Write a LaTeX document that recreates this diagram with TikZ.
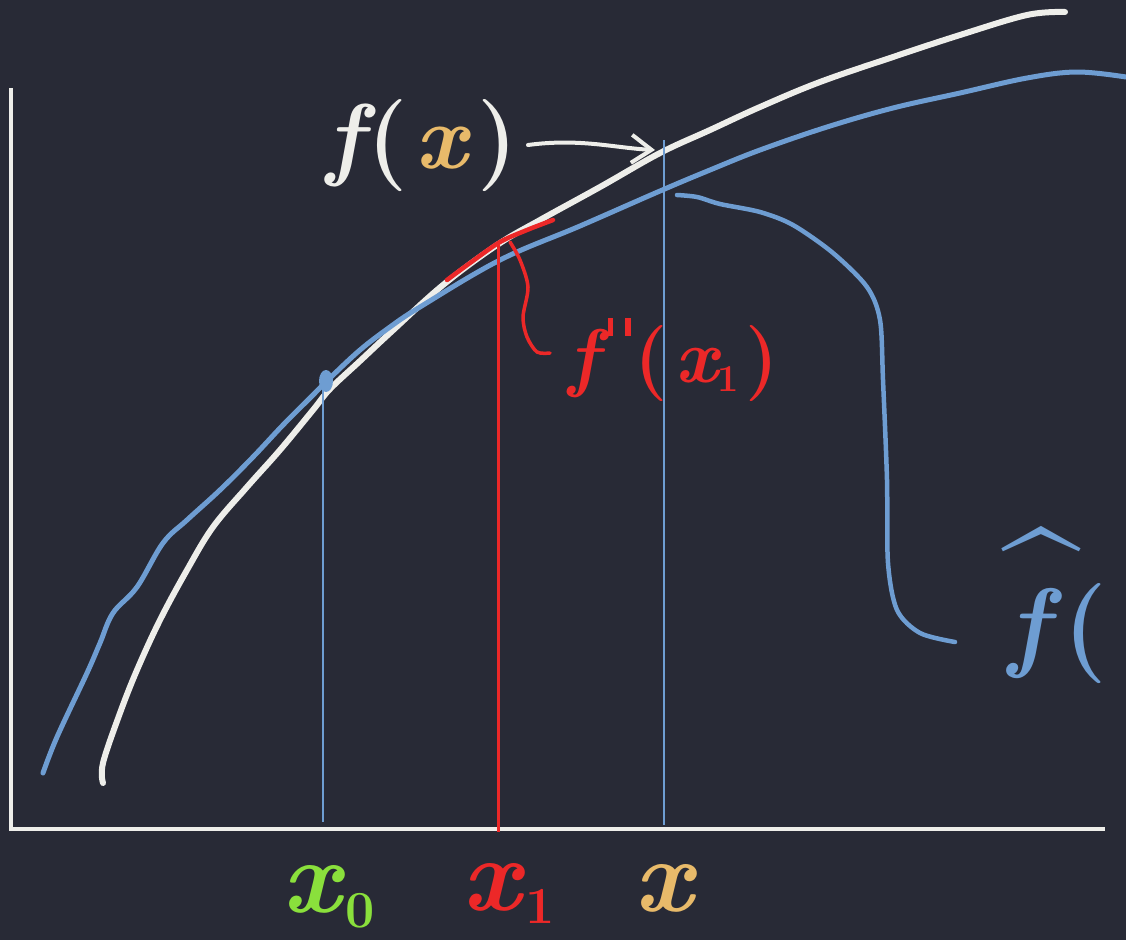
\documentclass[tikz,border=0pt]{standalone}
\usetikzlibrary{arrows.meta}
\definecolor{bg}{RGB}{40,42,54}
\definecolor{chalk}{RGB}{238,238,234}
\definecolor{skyb}{RGB}{110,157,210}
\definecolor{redp}{RGB}{236,40,40}
\definecolor{greenp}{RGB}{138,224,60}
\definecolor{orangep}{RGB}{232,186,106}
\newcommand{\hsub}[2]{\raisebox{#1}{\fontsize{0.5em}{0.5em}\selectfont #2}}
\newcommand{\ticks}{\raisebox{0.6em}{\rule{0.07em}{0.24em}\hspace{0.16em}\rule{0.07em}{0.24em}}}
\tikzset{
  fcurve/.style={draw=chalk,line width=6pt,line cap=round,line join=round},
  hcurve/.style={draw=skyb,line width=5pt,line cap=round,line join=round},
  axisline/.style={draw=chalk,line width=3.5pt},
  guide/.style={draw=skyb,line width=2.5pt},
  redguide/.style={draw=redp,line width=3pt},
  pen/.style={line width=4.5pt,line cap=round,line join=round},
  lbl/.style={inner sep=0pt,anchor=base west,font=\bfseries\itshape},
}
\begin{document}
\begin{tikzpicture}[x=1pt,y=-1pt]
\fill[bg] (0,0) rectangle (1126,940);
\useasboundingbox (0,0) rectangle (1126,940);
\clip (0,0) rectangle (1126,940);
% axes
\coordinate (O) at (11,829);
\coordinate (ytop) at (11,88);
\coordinate (xend) at (1105,829);
\draw[axisline] (ytop) -- (O) -- (xend);
% true function f
\draw[fcurve] plot[smooth,tension=0.6] coordinates {(103,783) (103,763) (120,713) (137,670) (160,620) (187,570) (213,527) (247,487) (280,450) (313,410) (330,389) (360,361) (390,333) (443,285) (497,245) (540,220) (600,187) (660,153) (710,130) (760,107) (820,82) (893,57) (960,35) (1027,15) (1065,12)};
% approximation fhat
\draw[hcurve] plot[smooth,tension=0.6] coordinates {(43,773) (57,737) (87,673) (100,643) (113,613) (137,587) (163,543) (187,520) (220,490) (253,457) (283,425) (310,398) (330,378) (360,350) (390,327) (420,307) (500,260) (580,226) (660,191) (710,170) (760,150) (827,127) (893,108) (960,93) (1027,78) (1077,72) (1126,77)};
% blob at x0
\fill[skyb] (326,381) ellipse (7pt and 11pt);
% vertical guides
\coordinate (x0top) at (323,385);
\coordinate (x0bot) at (323,822);
\coordinate (x1top) at (498,242);
\coordinate (x1bot) at (498,832);
\coordinate (xtop) at (664,140);
\coordinate (xbot) at (664,825);
\draw[guide] (x0top) -- (x0bot);
\draw[guide] (xtop) -- (xbot);
\draw[redguide] (x1top) -- (x1bot);
% tangent at x1
\draw[redp,pen] plot[smooth] coordinates {(447,280) (470,263) (500,242) (527,230) (553,220)};
% red brace
\draw[redp,pen,line width=3.5pt] plot[smooth] coordinates {(510,242) (520,260) (528,287) (523,317) (527,337) (537,352) (550,353)};
% labels
\node[lbl,text=chalk] (fx) at (326,168) {\fontsize{92}{92}\selectfont f\kern0.05em\upshape(\kern0.08em{\itshape\color{orangep}x}\kern0.12em)};
\node[lbl,text=redp] (fpp) at (568,382) {\fontsize{76}{76}\selectfont f\kern0.12em\ticks\kern0.05em\upshape(\kern0.1em\itshape x\hsub{-0.12em}{\upshape 1}\kern0.08em\upshape)};
\node[lbl,text=skyb] (fhat) at (1008,658) {\fontsize{100}{100}\selectfont\makebox[0pt][l]{\kern-0.06em\raisebox{0.28em}{\upshape\fontsize{140}{140}\selectfont\textasciicircum}}f\kern0.15em\upshape(};
\node[lbl,text=greenp] (lx0) at (282,912) {\fontsize{104}{104}\selectfont x\kern0.05em\hsub{-0.15em}{\upshape 0}};
\node[lbl,text=redp] (lx1) at (462,910) {\fontsize{104}{104}\selectfont x\kern0.05em\hsub{-0.13em}{\upshape 1}};
\node[lbl,text=orangep] (lx) at (634,911) {\fontsize{104}{104}\selectfont x};
% arrow from f(x) label to the curve
\coordinate (arrStart) at (528,145);
\coordinate (arrEnd) at (655,150);
\draw[chalk,line width=4pt,line cap=round,-{Straight Barb[length=20pt,width=28pt,line width=4pt]}]
  (arrStart) .. controls (580,138) and (615,148) .. (arrEnd);
% connector from fhat curve to its label
\coordinate (hstart) at (677,195);
\coordinate (hend) at (955,642);
\draw[skyb,line width=4.5pt,line cap=round] plot[smooth,tension=0.5] coordinates {(hstart) (697,197) (720,204) (760,212) (793,225) (833,253) (867,287) (880,320) (883,380) (887,480) (888,563) (897,610) (920,633) (hend)};
\end{tikzpicture}
\end{document}
